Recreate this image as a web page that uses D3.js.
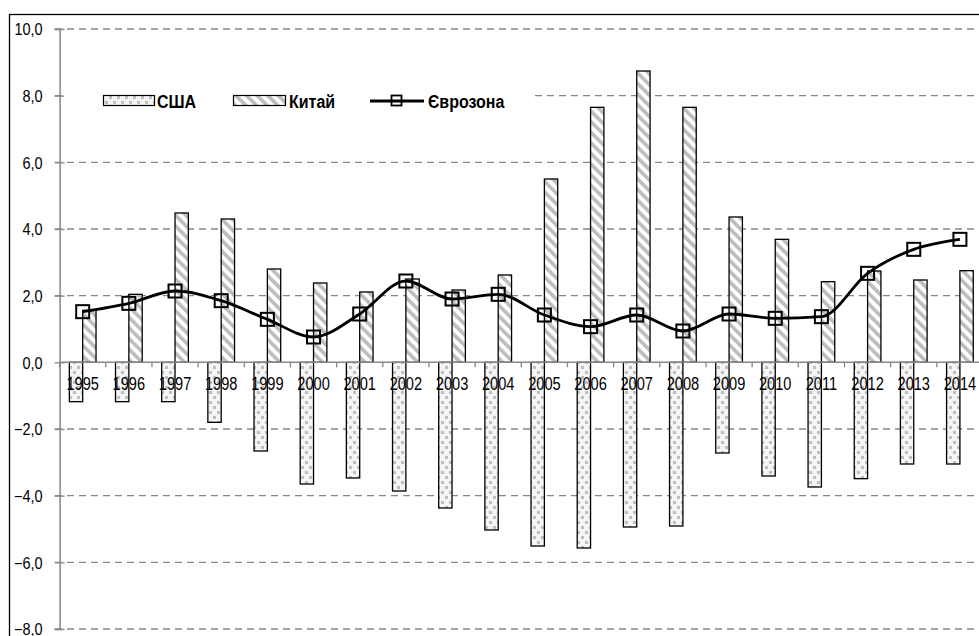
<!DOCTYPE html>
<html>
<head>
<meta charset="utf-8">
<script src="https://cdn.jsdelivr.net/npm/d3@7"></script>
<style>
  html, body { margin: 0; padding: 0; background: #fff; }
  svg { display: block; }
  text { font-family: "Liberation Sans", Arial, sans-serif; }
</style>
</head>
<body>
<svg id="chart" width="979" height="636"></svg>
<script>
const years = ["1995","1996","1997","1998","1999","2000","2001","2002","2003","2004",
               "2005","2006","2007","2008","2009","2010","2011","2012","2013","2014"];
const usa = [-1.18,-1.18,-1.18,-1.80,-2.66,-3.65,-3.47,-3.86,-4.37,-5.03,
             -5.51,-5.57,-4.94,-4.91,-2.72,-3.41,-3.74,-3.49,-3.05,-3.05];
const china = [1.56,2.04,4.48,4.30,2.80,2.38,2.11,2.50,2.17,2.62,
               5.50,7.65,8.74,7.65,4.36,3.69,2.42,2.74,2.47,2.75];
const euro = [1.52,1.77,2.14,1.85,1.29,0.76,1.45,2.44,1.90,2.04,
              1.42,1.07,1.42,0.94,1.45,1.32,1.37,2.67,3.39,3.69];
const yTicks = [-8,-6,-4,-2,0,2,4,6,8,10];
const seriesNames = ["США","Китай","Єврозона"];

const svg = d3.select("#chart");
const defs = svg.append("defs");

// dotted pattern (USA)
const pDot = defs.append("pattern").attr("id","pDot").attr("patternUnits","userSpaceOnUse")
  .attr("width",8).attr("height",10);
pDot.append("rect").attr("width",8).attr("height",10).attr("fill","#f5f5f5");
pDot.append("rect").attr("x",1).attr("y",1).attr("width",3).attr("height",3).attr("fill","#bfbfbf");
pDot.append("rect").attr("x",5).attr("y",6).attr("width",3).attr("height",3).attr("fill","#bfbfbf");

// diagonal stripe pattern (China)
const pStr = defs.append("pattern").attr("id","pStr").attr("patternUnits","userSpaceOnUse")
  .attr("width",7.5).attr("height",7.5).attr("patternTransform","rotate(-45)");
pStr.append("rect").attr("width",7.5).attr("height",7.5).attr("fill","#ffffff");
pStr.append("rect").attr("width",3.6).attr("height",7.5).attr("fill","#bdbdbd");

// outer frame
svg.append("rect").attr("x",9.5).attr("y",14.5).attr("width",1200).attr("height",1000)
  .attr("fill","none").attr("stroke","#000").attr("stroke-width",1.3);

const x = d3.scaleBand().domain(years).range([59.6, 983]).paddingInner(0.422).paddingOuter(0.211);
const y = d3.scaleLinear().domain([-8, 10]).range([629, 29]);
const bw = x.bandwidth() / 2;
const axisX = 59.6;
const gridCol = "#878787";

// gridlines
svg.append("g").selectAll("line").data(yTicks.filter(d => d !== 0)).join("line")
  .attr("x1", 55).attr("x2", 983)
  .attr("y1", d => y(d)).attr("y2", d => y(d))
  .attr("stroke", gridCol).attr("stroke-width", 1.3).attr("stroke-dasharray", "7,5");

// y axis
const yAxis = d3.axisLeft(y).tickValues(yTicks).tickSize(5).tickPadding(12)
  .tickFormat(d => d3.format(".1f")(d).replace(".", ","));
const gy = svg.append("g").attr("transform", `translate(${axisX},0)`).call(yAxis);
gy.select(".domain").attr("stroke", gridCol).attr("stroke-width", 1.5);
gy.selectAll(".tick line").attr("stroke", gridCol).attr("stroke-width", 1.3).attr("x2", -5).attr("x1", 5);
gy.selectAll(".tick text").attr("font-size", 14.5).attr("fill", "#000")
  .attr("dy", null).attr("y", 0).attr("dominant-baseline", "central")
  .attr("transform", "scale(1,1.08)");

// legend background
svg.append("rect").attr("x", 64).attr("y", 82).attr("width", 470).attr("height", 30).attr("fill", "#fff");

// bars
const gb = svg.append("g");
gb.selectAll("rect.usa").data(usa).join("rect").attr("class","usa")
  .attr("x", (d,i) => x(years[i]))
  .attr("y", d => y(Math.max(0,d)))
  .attr("width", bw)
  .attr("height", d => Math.abs(y(d) - y(0)))
  .attr("fill", "url(#pDot)").attr("stroke", "#000").attr("stroke-width", 1.3);
gb.selectAll("rect.china").data(china).join("rect").attr("class","china")
  .attr("x", (d,i) => x(years[i]) + bw)
  .attr("y", d => y(Math.max(0,d)))
  .attr("width", bw)
  .attr("height", d => Math.abs(y(d) - y(0)))
  .attr("fill", "url(#pStr)").attr("stroke", "#000").attr("stroke-width", 1.3);

// x axis line and ticks
const step = x.step();
svg.append("line").attr("x1", axisX).attr("x2", 983).attr("y1", y(0)).attr("y2", y(0))
  .attr("stroke", gridCol).attr("stroke-width", 1.5);
svg.append("g").selectAll("line").data(years).join("line")
  .attr("x1", d => x(d) + bw - step/2).attr("x2", d => x(d) + bw - step/2)
  .attr("y1", y(0)).attr("y2", y(0) + 5)
  .attr("stroke", gridCol).attr("stroke-width", 1.3);

// x labels
svg.append("g").selectAll("text").data(years).join("text")
  .attr("transform", d => `translate(${x(d) + bw},${y(0) + 28}) scale(1,1.25)`)
  .attr("text-anchor", "middle").attr("font-size", 14.6).attr("fill", "#000")
  .text(d => d);

// euro line
const line = d3.line().x((d,i) => x(years[i]) + bw).y(d => y(d)).curve(d3.curveMonotoneX);
svg.append("path").datum(euro).attr("d", line).attr("fill", "none")
  .attr("stroke", "#000").attr("stroke-width", 2.8);
svg.append("g").selectAll("rect").data(euro).join("rect")
  .attr("x", (d,i) => x(years[i]) + bw - 6.5).attr("y", d => y(d) - 6.5)
  .attr("width", 13).attr("height", 13)
  .attr("fill", "none").attr("stroke", "#000").attr("stroke-width", 2);

// legend
const lg = svg.append("g");
lg.append("rect").attr("x", 103.5).attr("y", 95.5).attr("width", 51).attr("height", 10)
  .attr("fill", "url(#pDot)").attr("stroke", "#000").attr("stroke-width", 1.2);
lg.append("rect").attr("x", 233.5).attr("y", 95.5).attr("width", 52).attr("height", 10)
  .attr("fill", "url(#pStr)").attr("stroke", "#000").attr("stroke-width", 1.2);
lg.append("line").attr("x1", 370).attr("x2", 424).attr("y1", 101).attr("y2", 101)
  .attr("stroke", "#000").attr("stroke-width", 2.8);
lg.append("rect").attr("x", 391.5).attr("y", 95.5).attr("width", 10).attr("height", 10)
  .attr("fill", "none").attr("stroke", "#000").attr("stroke-width", 1.8);
const lx = [157, 289, 428];
lg.selectAll("text").data(seriesNames).join("text")
  .attr("transform", (d,i) => `translate(${lx[i]},108) scale(1,1.12)`)
  .attr("font-size", 16).attr("font-weight", "bold").attr("fill", "#000")
  .text(d => d);
</script>
</body>
</html>
